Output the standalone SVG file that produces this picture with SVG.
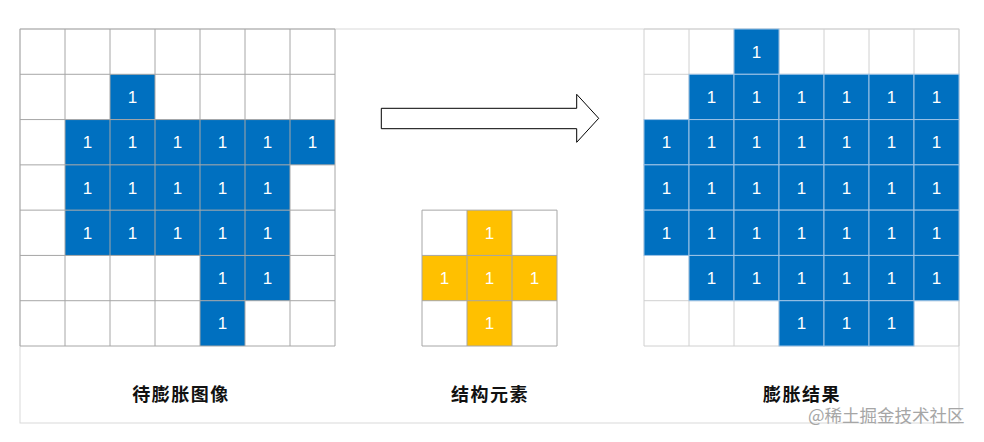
<svg xmlns="http://www.w3.org/2000/svg" width="984" height="442" viewBox="0 0 984 442">
<style>
.b{fill:#0070c0}
.rb{fill:#0070c0;stroke:#9dc3e6;stroke-width:1}
.y{fill:#ffc000}
.g1{fill:none;stroke:#a6a6a6;stroke-width:1}
.g2{fill:none;stroke:#d0d0d0;stroke-width:1}
.n{font-family:"Liberation Sans",Arial,sans-serif;font-size:17px;fill:#ffffff;text-anchor:middle}
.lbl{font-family:"Noto Sans CJK SC","Noto Sans",sans-serif;font-size:18px;font-weight:bold;fill:#111111;text-anchor:middle;letter-spacing:1.5px}
.wm{font-family:"Noto Sans CJK SC","Noto Sans",sans-serif;font-size:17.5px;fill:#a6a6a6}
</style>
<rect x="0" y="0" width="984" height="442" fill="#ffffff"/>
<rect id="frame" x="20" y="29" width="939" height="394" fill="none" stroke="#d9d9d9" stroke-width="1"/>

<g id="input-image">
<rect class="b" x="110" y="74.29" width="45" height="45.29"/>
<rect class="b" x="65" y="119.57" width="270" height="45.29"/>
<rect class="b" x="65" y="164.86" width="225" height="45.29"/>
<rect class="b" x="65" y="210.14" width="225" height="45.29"/>
<rect class="b" x="200" y="255.43" width="90" height="45.29"/>
<rect class="b" x="200" y="300.71" width="45" height="45.29"/>
<path class="g1" d="M20 29V346M65 29V346M110 29V346M155 29V346M200 29V346M245 29V346M290 29V346M335 29V346M20 29H335M20 74.29H335M20 119.57H335M20 164.86H335M20 210.14H335M20 255.43H335M20 300.71H335M20 346H335"/>
<g class="n">
<text x="132.5" y="102.9">1</text>
<text x="87.5" y="148.2">1</text><text x="132.5" y="148.2">1</text><text x="177.5" y="148.2">1</text><text x="222.5" y="148.2">1</text><text x="267.5" y="148.2">1</text><text x="312.5" y="148.2">1</text>
<text x="87.5" y="193.5">1</text><text x="132.5" y="193.5">1</text><text x="177.5" y="193.5">1</text><text x="222.5" y="193.5">1</text><text x="267.5" y="193.5">1</text>
<text x="87.5" y="238.8">1</text><text x="132.5" y="238.8">1</text><text x="177.5" y="238.8">1</text><text x="222.5" y="238.8">1</text><text x="267.5" y="238.8">1</text>
<text x="222.5" y="284.1">1</text><text x="267.5" y="284.1">1</text>
<text x="222.5" y="329.4">1</text>
</g>
<text class="lbl" x="181" y="401">待膨胀图像</text>
</g>

<g id="structuring-element">
<rect class="y" x="467" y="210.14" width="45" height="135.86"/>
<rect class="y" x="422" y="255.43" width="135" height="45.29"/>
<path class="g1" d="M422 210.14V346M467 210.14V346M512 210.14V346M557 210.14V346M422 210.14H557M422 255.43H557M422 300.71H557M422 346H557"/>
<g class="n">
<text x="489.5" y="238.8">1</text>
<text x="444.5" y="284.1">1</text><text x="489.5" y="284.1">1</text><text x="534.5" y="284.1">1</text>
<text x="489.5" y="329.4">1</text>
</g>
<text class="lbl" x="490" y="401">结构元素</text>
</g>

<g id="result-image">
<path class="g2" d="M644 29V346M689 29V346M734 29V346M779 29V346M824 29V346M869 29V346M914 29V346M959 29V346M644 29H959M644 74.29H959M644 119.57H959M644 164.86H959M644 210.14H959M644 255.43H959M644 300.71H959M644 346H959"/>
<rect class="rb" x="734" y="29" width="45" height="45.29"/>
<rect class="rb" x="689" y="74.29" width="45" height="45.29"/><rect class="rb" x="734" y="74.29" width="45" height="45.29"/><rect class="rb" x="779" y="74.29" width="45" height="45.29"/><rect class="rb" x="824" y="74.29" width="45" height="45.29"/><rect class="rb" x="869" y="74.29" width="45" height="45.29"/><rect class="rb" x="914" y="74.29" width="45" height="45.29"/>
<rect class="rb" x="644" y="119.57" width="45" height="45.29"/><rect class="rb" x="689" y="119.57" width="45" height="45.29"/><rect class="rb" x="734" y="119.57" width="45" height="45.29"/><rect class="rb" x="779" y="119.57" width="45" height="45.29"/><rect class="rb" x="824" y="119.57" width="45" height="45.29"/><rect class="rb" x="869" y="119.57" width="45" height="45.29"/><rect class="rb" x="914" y="119.57" width="45" height="45.29"/>
<rect class="rb" x="644" y="164.86" width="45" height="45.29"/><rect class="rb" x="689" y="164.86" width="45" height="45.29"/><rect class="rb" x="734" y="164.86" width="45" height="45.29"/><rect class="rb" x="779" y="164.86" width="45" height="45.29"/><rect class="rb" x="824" y="164.86" width="45" height="45.29"/><rect class="rb" x="869" y="164.86" width="45" height="45.29"/><rect class="rb" x="914" y="164.86" width="45" height="45.29"/>
<rect class="rb" x="644" y="210.14" width="45" height="45.29"/><rect class="rb" x="689" y="210.14" width="45" height="45.29"/><rect class="rb" x="734" y="210.14" width="45" height="45.29"/><rect class="rb" x="779" y="210.14" width="45" height="45.29"/><rect class="rb" x="824" y="210.14" width="45" height="45.29"/><rect class="rb" x="869" y="210.14" width="45" height="45.29"/><rect class="rb" x="914" y="210.14" width="45" height="45.29"/>
<rect class="rb" x="689" y="255.43" width="45" height="45.29"/><rect class="rb" x="734" y="255.43" width="45" height="45.29"/><rect class="rb" x="779" y="255.43" width="45" height="45.29"/><rect class="rb" x="824" y="255.43" width="45" height="45.29"/><rect class="rb" x="869" y="255.43" width="45" height="45.29"/><rect class="rb" x="914" y="255.43" width="45" height="45.29"/>
<rect class="rb" x="779" y="300.71" width="45" height="45.29"/><rect class="rb" x="824" y="300.71" width="45" height="45.29"/><rect class="rb" x="869" y="300.71" width="45" height="45.29"/>
<g class="n">
<text x="756.5" y="57.6">1</text>
<text x="711.5" y="102.9">1</text><text x="756.5" y="102.9">1</text><text x="801.5" y="102.9">1</text><text x="846.5" y="102.9">1</text><text x="891.5" y="102.9">1</text><text x="936.5" y="102.9">1</text>
<text x="666.5" y="148.2">1</text><text x="711.5" y="148.2">1</text><text x="756.5" y="148.2">1</text><text x="801.5" y="148.2">1</text><text x="846.5" y="148.2">1</text><text x="891.5" y="148.2">1</text><text x="936.5" y="148.2">1</text>
<text x="666.5" y="193.5">1</text><text x="711.5" y="193.5">1</text><text x="756.5" y="193.5">1</text><text x="801.5" y="193.5">1</text><text x="846.5" y="193.5">1</text><text x="891.5" y="193.5">1</text><text x="936.5" y="193.5">1</text>
<text x="666.5" y="238.8">1</text><text x="711.5" y="238.8">1</text><text x="756.5" y="238.8">1</text><text x="801.5" y="238.8">1</text><text x="846.5" y="238.8">1</text><text x="891.5" y="238.8">1</text><text x="936.5" y="238.8">1</text>
<text x="711.5" y="284.1">1</text><text x="756.5" y="284.1">1</text><text x="801.5" y="284.1">1</text><text x="846.5" y="284.1">1</text><text x="891.5" y="284.1">1</text><text x="936.5" y="284.1">1</text>
<text x="801.5" y="329.4">1</text><text x="846.5" y="329.4">1</text><text x="891.5" y="329.4">1</text>
</g>
<text class="lbl" x="802" y="401">膨胀结果</text>
</g>

<g id="connectors">
<polygon points="381.3,108.3 576.7,108.3 576.7,94.3 598.7,118.3 576.7,142.3 576.7,128.7 381.3,128.7" fill="#ffffff" stroke="#000000" stroke-width="1"/>
</g>

<text class="wm" x="808" y="421.5">@稀土掘金技术社区</text>
</svg>
